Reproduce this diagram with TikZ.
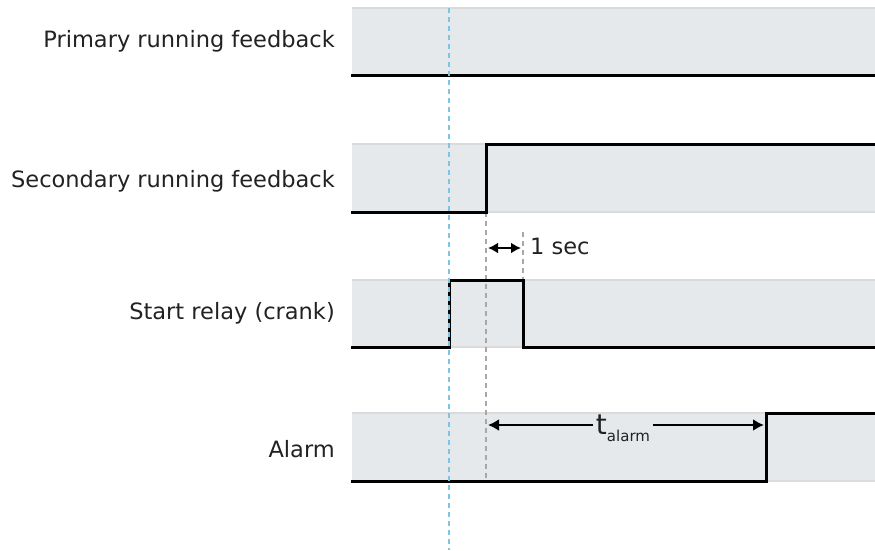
\documentclass[tikz,border=0pt]{standalone}
\usepackage{fontspec}
\setmainfont{DejaVu Sans}
\usetikzlibrary{arrows.meta}
\definecolor{bandfill}{HTML}{E6E9EC}
\definecolor{bandedge}{HTML}{D9DBDD}
\definecolor{txt}{HTML}{222222}
\definecolor{markblue}{HTML}{7CC6E4}
\definecolor{markgray}{HTML}{A8A8A8}
\begin{document}
\begin{tikzpicture}[x=1pt,y=-1pt,
  signal/.style={line width=3pt, black, line join=miter, line cap=rect},
  lbl/.style={anchor=base east, text=txt, inner sep=0pt, font=\fontsize{22.5}{27}\selectfont},
  edgeline/.style={bandedge, line width=2pt},
  bluemark/.style={markblue, line width=2.5pt, dash pattern=on 5pt off 4pt},
  graymark/.style={markgray, line width=2.5pt, dash pattern=on 5pt off 4pt},
  span/.style={line width=2.6pt, black, {Latex[length=10pt,width=11pt]}-{Latex[length=10pt,width=11pt]}},
  halfspan/.style={line width=2.6pt, black, -{Latex[length=11pt,width=12pt]}}
]
\useasboundingbox (0,0) rectangle (875,550);

% signal bands
\foreach \t/\b in {8/75,144/212,280/347,413/481}{
  \fill[bandfill] (352,\t) rectangle (875,\b);
  \draw[edgeline] (352,\t) -- (875,\t) (352,\b) -- (875,\b);
}

% row labels
\node[lbl] (lprim) at (335,47)  {Primary running feedback};
\node[lbl] (lsec)  at (335,187) {Secondary running feedback};
\node[lbl] (lstart) at (335,319) {Start relay (crank)};
\node[lbl] (lalarm) at (335,457) {Alarm};

% timing references
\coordinate (secup)   at (486,212);
\coordinate (secdown) at (486,481);
\coordinate (onetop)  at (523,232);
\coordinate (onebot)  at (523,280);
\draw[graymark] (secup) -- (secdown);
\draw[graymark] (onetop) -- (onebot);

% waveforms
\draw[signal] (352,75) -- (875,75);
\draw[signal] (352,212) -- (486,212) -- (486,144) -- (875,144);
\draw[signal] (352,347) -- (449,347) -- (449,280) -- (523,280) -- (523,347) -- (875,347);
\draw[signal] (352,481) -- (766,481) -- (766,413) -- (875,413);

% 1 sec interval
\coordinate (oa) at (488,248);
\coordinate (ob) at (521,248);
\draw[span] (oa) -- (ob);
\node[anchor=base west, text=txt, inner sep=0pt, font=\fontsize{22.5}{27}\selectfont] (onesec) at (530,254) {1 sec};

% alarm delay
\node[fill=bandfill, inner xsep=3pt, inner ysep=0pt, text=txt, font=\fontsize{28}{32}\selectfont] (talarm) at (623,428)
  {t\raisebox{-7pt}{\fontsize{15}{17}\selectfont alarm}};
\coordinate (ta) at (488,425);
\coordinate (tb) at (764,425);
\draw[halfspan] (talarm.west |- ta) -- (ta);
\draw[halfspan] (talarm.east |- tb) -- (tb);

% crank start instant
\coordinate (crtop) at (449,8);
\coordinate (crbot) at (449,550);
\draw[bluemark] (crtop) -- (crbot);
\end{tikzpicture}
\end{document}
